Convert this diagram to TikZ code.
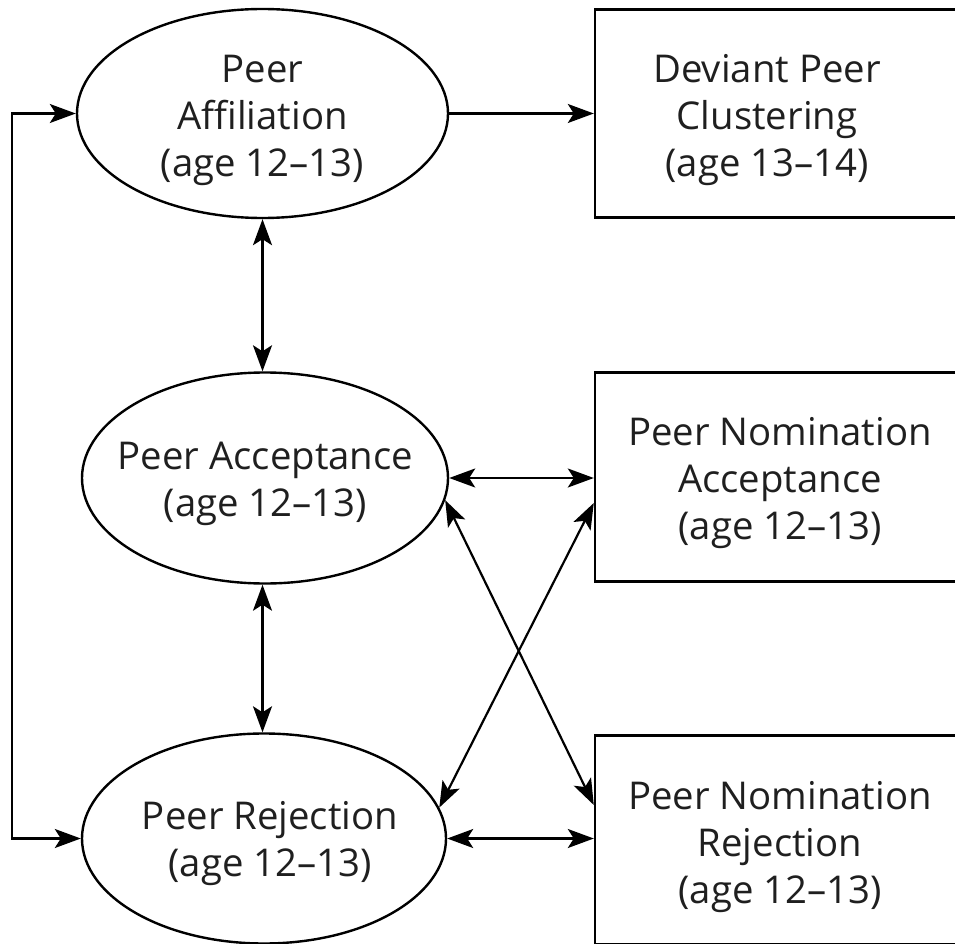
\documentclass[tikz,border=0pt]{standalone}
\usepackage{fontspec}
\setmainfont{Open Sans}
\usetikzlibrary{arrows.meta,calc,shapes.geometric}
\begin{document}
\begin{tikzpicture}[x=1pt,y=-1pt,
  every node/.style={inner sep=0pt},
  oval/.style={draw,ellipse,line width=2.4pt},
  boxnode/.style={draw,rectangle,line width=2.4pt,minimum width=370pt},
  lbl/.style={align=center,font=\fontsize{38.3}{47}\selectfont,text=black!88},
  conn/.style={line width=2.2pt,{Stealth[length=26pt,width=19pt,inset=6pt]}-{Stealth[length=26pt,width=19pt,inset=6pt]}},
  oneway/.style={line width=2.2pt,-{Stealth[length=26pt,width=19pt,inset=6pt]}}]
\useasboundingbox (0,0) rectangle (955,944);
\clip (0,0) rectangle (955,944);
% ellipses
\node[oval,minimum width=371pt,minimum height=209pt] (e1) at (262.5,113.5) {};
\node[lbl] (e1t) at (262.5,120) {Peer\\Affiliation\\(age 12–13)};
\node[oval,minimum width=366pt,minimum height=211pt] (e2) at (265,478) {};
\node[lbl] (e2t) at (265.5,484) {Peer Acceptance\\(age 12–13)};
\node[oval,minimum width=364pt,minimum height=210pt] (e3) at (264,838.5) {};
\node[lbl] (e3t) at (270,844) {Peer Rejection\\(age 12–13)};
% boxes
\node[boxnode,minimum height=208pt] (b1) at (780,113.5) {};
\node[lbl] (b1t) at (767,120) {Deviant Peer\\Clustering\\(age 13–14)};
\node[boxnode,minimum height=209pt] (b2) at (780,477) {};
\node[lbl] (b2t) at (780,483) {Peer Nomination\\Acceptance\\(age 12–13)};
\node[boxnode,minimum height=209pt] (b3) at (780,840) {};
\node[lbl] (b3t) at (780,847) {Peer Nomination\\Rejection\\(age 12–13)};
% connectors
\draw[oneway] (e1.east) -- (e1.east -| b1.west);
\coordinate (lt) at (12,113.5);
\draw[conn] (e1.west) -- (lt) |- (e3.west);
\draw[conn] (e1.south) -- (e1.south |- e2.north);
\draw[conn] (e2.south -| e1.south) -- (e3.north -| e1.south);
\draw[conn] (e2.east) -- (e2.east -| b2.west);
\draw[conn] (e3.east) -- (e3.east -| b3.west);
\draw[conn] (e2.-7) -- ($(b3.west)+(0,-35)$);
\draw[conn] (e3.10) -- ($(b2.west)+(0,26)$);
\end{tikzpicture}
\end{document}
